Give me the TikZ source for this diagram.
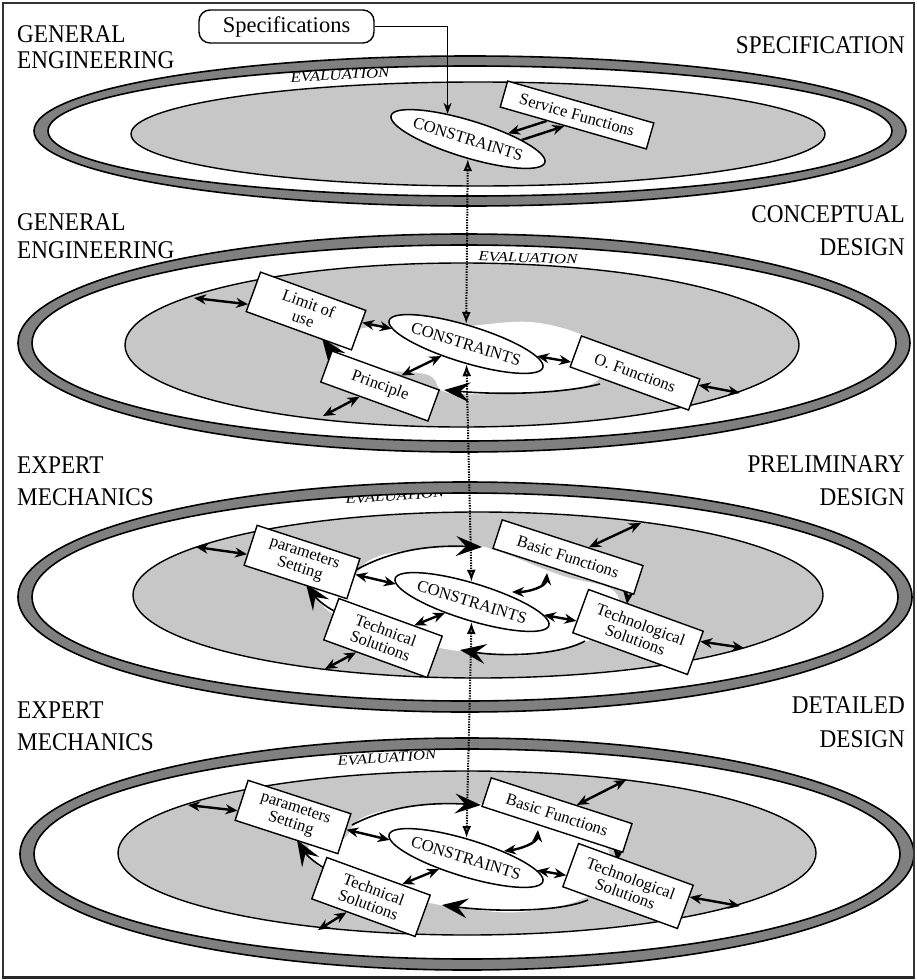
\documentclass[tikz,border=0pt]{standalone}
\usepackage{fontspec}
\setmainfont{Liberation Serif}
\newfontfamily\lab[FakeStretch=0.91]{Liberation Serif}
\newfontfamily\evfont[FakeStretch=1.2]{Liberation Serif}
\usetikzlibrary{arrows.meta,calc,shapes.geometric}
\begin{document}
\begin{tikzpicture}[x=1pt,y=-1pt,
  ringfill/.style={fill=black!50},
  edge/.style={draw=black, line width=1.6pt},
  innerfill/.style={fill=black!22, draw=black, line width=1.4pt},
  box/.style={draw, fill=white, line width=1.4pt, rectangle, inner sep=1pt, align=center, font=\fontsize{16.5}{16}\selectfont},
  consnode/.style={draw, fill=white, ellipse, line width=1.5pt, minimum width=150pt, minimum height=37pt, inner sep=0pt, rotate=-17, font=\fontsize{16.5}{16}\selectfont},
  dar/.style={line width=2.4pt, {Stealth[length=12pt,width=10pt]}-{Stealth[length=12pt,width=10pt]}},
  sar/.style={line width=2.4pt, -{Stealth[length=12pt,width=10pt]}},
  loopar/.style={line width=1.6pt, -{Stealth[length=26pt,width=20pt,inset=10pt]}},
  smallloop/.style={line width=1.6pt, -{Stealth[length=13pt,width=11pt]}},
  vlink/.style={line width=2pt, draw=black, dash pattern=on 1.4pt off 1.2pt, {Latex[length=12pt,width=9pt,fill=black!45]}-{Latex[length=12pt,width=9pt,fill=black!45]}},
  headlab/.style={inner sep=0pt, font=\lab\fontsize{25.5}{25}\selectfont},
  evlab/.style={inner sep=0pt, font=\evfont\itshape\fontsize{14}{14}\selectfont}
]
\useasboundingbox (0,0) rectangle (917,980);
\fill[white] (0,0) rectangle (917,980);

% ---------------- headings
\node[headlab, anchor=base west] (h1a) at (17,42) {GENERAL};
\node[headlab, anchor=base west] (h1b) at (17,68) {ENGINEERING};
\node[headlab, anchor=base east] (h1c) at (905,53) {SPECIFICATION};
\node[headlab, anchor=base west] (h2a) at (17,230) {GENERAL};
\node[headlab, anchor=base west] (h2b) at (17,258) {ENGINEERING};
\node[headlab, anchor=base east] (h2c) at (905,222) {CONCEPTUAL};
\node[headlab, anchor=base east] (h2d) at (905,255) {DESIGN};
\node[headlab, anchor=base west] (h3a) at (17,473) {EXPERT};
\node[headlab, anchor=base west] (h3b) at (17,505) {MECHANICS};
\node[headlab, anchor=base east] (h3c) at (905,472) {PRELIMINARY};
\node[headlab, anchor=base east] (h3d) at (905,505) {DESIGN};
\node[headlab, anchor=base west] (h4a) at (17,718) {EXPERT};
\node[headlab, anchor=base west] (h4b) at (17,750) {MECHANICS};
\node[headlab, anchor=base east] (h4c) at (905,713) {DETAILED};
\node[headlab, anchor=base east] (h4d) at (905,747) {DESIGN};

% ---------------- disk 1
\coordinate (d1) at (470,131);
\fill[white] (d1) ellipse[x radius=436pt, y radius=75pt];
\filldraw[innerfill] (478,134) ellipse[x radius=347pt, y radius=52pt];
\node[evlab, rotate=3] (ev1) at (340,75) {EVALUATION};
\fill[ringfill, even odd rule] (d1) ellipse[x radius=436pt, y radius=75pt] (d1) ellipse[x radius=422pt, y radius=65pt];
\draw[edge] (d1) ellipse[x radius=436pt, y radius=75pt];
\draw[edge] (d1) ellipse[x radius=422pt, y radius=65pt];

\node[draw, fill=white, rounded corners=11pt, line width=1.4pt, minimum width=175pt, minimum height=33pt, font=\fontsize{22.5}{22}\selectfont] (spec) at (286.5,26.5) {Specifications};
\node[consnode] (cons1) at (468,139) {CONSTRAINTS};
\node[box, rotate=-16, minimum width=152pt, minimum height=27pt] (sf) at (577,115) {Service Functions};
\draw[line width=1.4pt, -{Stealth[length=11pt,width=8pt]}] (spec.east) -| (cons1.146);
\draw[sar] ($(sf.south west)!0.32!(sf.south east)$) -- (cons1.25);
\draw[sar] (cons1.16) -- ($(sf.south west)!0.44!(sf.south east)$);

% ---------------- disk 2
\coordinate (d2) at (464,343);
\fill[white] (d2) ellipse[x radius=446pt, y radius=109pt];
\filldraw[innerfill] (462,345) ellipse[x radius=337pt, y radius=82pt];
\fill[white] plot[smooth cycle, tension=0.6] coordinates {(338,352) (352,332) (385,326) (420,332) (470,326) (530,322) (580,334) (600,352) (598,380) (560,391) (500,394) (445,392) (425,374) (345,368)};
\node[evlab, rotate=-2] (ev2) at (528,258) {EVALUATION};
\fill[ringfill, even odd rule] (d2) ellipse[x radius=446pt, y radius=109pt] (d2) ellipse[x radius=432pt, y radius=98pt];
\draw[edge] (d2) ellipse[x radius=446pt, y radius=109pt];
\draw[edge] (d2) ellipse[x radius=432pt, y radius=98pt];

\draw[loopar] (600,384) .. controls (560,394) and (500,395) .. (444,390);
\draw[loopar] (346,362) .. controls (338,356) and (330,349) .. (322,338);
\node[box, rotate=-20, minimum width=112pt, minimum height=42pt] (limit) at (306,311) {Limit of\\use};
\node[consnode] (cons2) at (466,344) {CONSTRAINTS};
\node[box, rotate=-20, minimum width=114pt, minimum height=33pt] (principle) at (380,386) {Principle};
\node[box, rotate=-20, minimum width=126pt, minimum height=33pt] (ofunc) at (635,373) {O. Functions};
\coordinate (e2a) at (194,298);
\coordinate (e2b) at (323,416);
\coordinate (e2c) at (740,393);
\draw[dar] (e2a) -- (limit);
\draw[dar] (limit) -- (cons2);
\draw[dar] (principle) -- (cons2);
\draw[dar] (e2b) -- (principle);
\draw[dar] (cons2) -- (ofunc);
\draw[dar] (ofunc) -- (e2c);

% ---------------- disk 3
\coordinate (d3) at (465,597);
\fill[white] (d3) ellipse[x radius=447pt, y radius=115pt];
\filldraw[innerfill] (478,595) ellipse[x radius=345pt, y radius=83pt];
\fill[white] plot[smooth cycle, tension=0.7] coordinates {(352,580) (370,560) (410,550) (470,546) (500,552) (560,575) (615,592) (610,625) (585,642) (530,655) (470,652) (440,648) (400,640) (335,615) (318,592) (340,585)};
\node[evlab, rotate=4] (ev3) at (395,496) {EVALUATION};
\fill[ringfill, even odd rule] (d3) ellipse[x radius=447pt, y radius=115pt] (d3) ellipse[x radius=433pt, y radius=104pt];
\draw[edge] (d3) ellipse[x radius=447pt, y radius=115pt];
\draw[edge] (d3) ellipse[x radius=433pt, y radius=104pt];

\draw[loopar] (356,570) .. controls (392,550) and (430,545) .. (482,547);
\draw[smallloop] (616,586) .. controls (626,590) and (628,596) .. (627,604);
\draw[loopar] (585,641) .. controls (560,655) and (505,657) .. (460,650);
\draw[loopar] (336,612) .. controls (324,606) and (316,598) .. (306,584);
\node[box, rotate=-18, minimum width=108pt, minimum height=42pt] (params3) at (302,562) {parameters\\Setting};
\node[box, rotate=-18, minimum width=148pt, minimum height=30pt] (basic3) at (568,557) {Basic Functions};
\node[consnode] (cons3) at (472,602) {CONSTRAINTS};
\node[box, rotate=-20, minimum width=110pt, minimum height=44pt] (tech3) at (383,638) {Technical\\Solutions};
\node[box, rotate=-20, minimum width=122pt, minimum height=46pt] (techno3) at (638,632) {Technological\\Solutions};
\coordinate (e3a) at (196,547);
\coordinate (e3b) at (325,669);
\coordinate (e3c) at (641,523);
\coordinate (e3d) at (744,648);
\draw[dar] (e3a) -- (params3);
\draw[dar] (params3) -- (cons3);
\draw[dar] (cons3) -- (tech3);
\draw[dar] (e3b) -- (tech3);
\draw[dar] (e3c) -- (basic3);
\draw[dar] (547,573) .. controls (546,587) and (528,592) .. (512,592);
\draw[dar] (cons3) -- (techno3);
\draw[dar] (techno3) -- (e3d);

% ---------------- disk 4
\coordinate (d4) at (467,854);
\fill[white] (d4) ellipse[x radius=447pt, y radius=116pt];
\filldraw[innerfill] (467,853) ellipse[x radius=349pt, y radius=82pt];
\fill[white] plot[smooth cycle, tension=0.7] coordinates {(345,838) (362,818) (410,806) (470,803) (495,808) (555,830) (606,846) (600,880) (580,900) (520,912) (460,908) (430,903) (390,895) (325,870) (308,848) (330,840)};
\node[evlab, rotate=4] (ev4) at (387,758) {EVALUATION};
\fill[ringfill, even odd rule] (d4) ellipse[x radius=447pt, y radius=116pt] (d4) ellipse[x radius=433pt, y radius=105pt];
\draw[edge] (d4) ellipse[x radius=447pt, y radius=116pt];
\draw[edge] (d4) ellipse[x radius=433pt, y radius=105pt];

\draw[loopar] (352,825) .. controls (388,806) and (430,802) .. (481,805);
\draw[smallloop] (607,843) .. controls (616,848) and (618,853) .. (617,861);
\draw[loopar] (588,900) .. controls (560,912) and (495,912) .. (442,905);
\draw[loopar] (326,869) .. controls (313,862) and (305,853) .. (297,840);
\node[box, rotate=-18, minimum width=108pt, minimum height=42pt] (params4) at (293,817) {parameters\\Setting};
\node[box, rotate=-18, minimum width=148pt, minimum height=30pt] (basic4) at (557,815) {Basic Functions};
\node[consnode] (cons4) at (466,858) {CONSTRAINTS};
\node[box, rotate=-20, minimum width=110pt, minimum height=44pt] (tech4) at (371,897) {Technical\\Solutions};
\node[box, rotate=-20, minimum width=122pt, minimum height=46pt] (techno4) at (628,886) {Technological\\Solutions};
\coordinate (e4a) at (188,805);
\coordinate (e4b) at (318,930);
\coordinate (e4c) at (626,780);
\coordinate (e4d) at (740,906);
\draw[dar] (e4a) -- (params4);
\draw[dar] (params4) -- (cons4);
\draw[dar] (cons4) -- (tech4);
\draw[dar] (e4b) -- (tech4);
\draw[dar] (e4c) -- (basic4);
\draw[dar] (538,830) .. controls (537,843) and (520,849) .. (504,851);
\draw[dar] (cons4) -- (techno4);
\draw[dar] (techno4) -- (e4d);

% ---------------- vertical links
\draw[vlink] (cons1) -- (cons2);
\draw[vlink] (cons2) -- (cons3);
\draw[vlink] (cons3) -- (cons4);

% ---------------- frame
\draw[line width=1.2pt, black!80] (3,3) rectangle (914,977);
\draw[line width=3pt, black!85] (2,977) -- (915,977);
\end{tikzpicture}
\end{document}
